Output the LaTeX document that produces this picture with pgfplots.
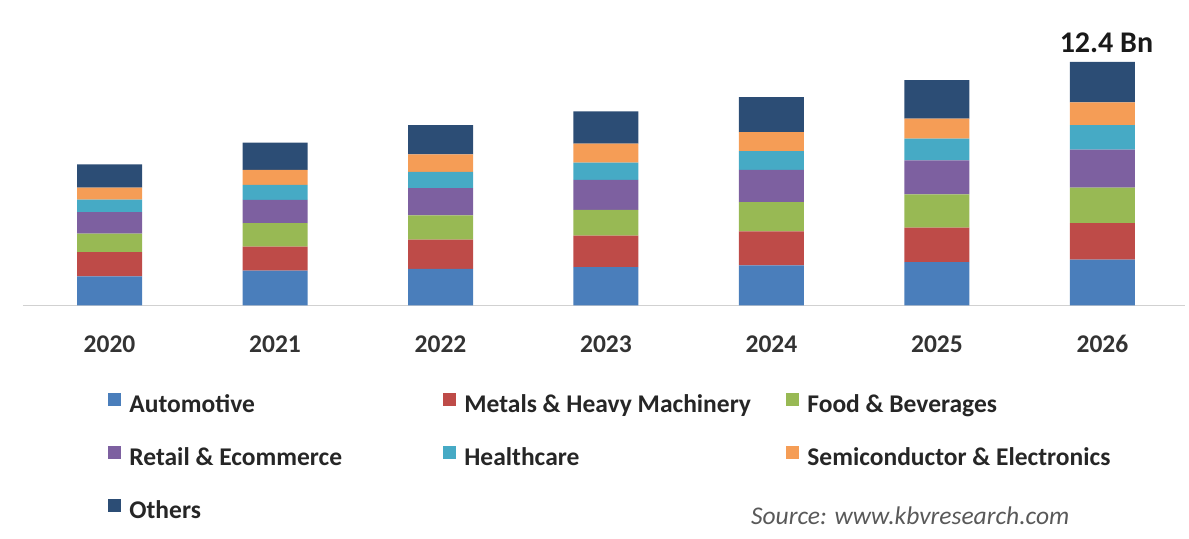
\documentclass[border=0pt]{standalone}
\usepackage{pgfplots}
\usepackage{pgfplotstable}
\pgfplotsset{compat=1.18}
\usepackage{fontspec}
\setmainfont{Carlito}
\definecolor{cauto}{HTML}{4A7EBB}
\definecolor{cmetal}{HTML}{BE4B48}
\definecolor{cfood}{HTML}{98B954}
\definecolor{cretail}{HTML}{7D60A0}
\definecolor{chealth}{HTML}{46AAC5}
\definecolor{csemi}{HTML}{F59D56}
\definecolor{cother}{HTML}{2C4D75}
\pgfplotstableread{
x auto metals food retail health semi others
0 1.48 1.24 0.94 1.10 0.63 0.61 1.19
1 1.78 1.22 1.19 1.19 0.76 0.76 1.39
2 1.87 1.48 1.24 1.39 0.82 0.89 1.49
3 1.95 1.61 1.31 1.53 0.87 0.97 1.65
4 2.04 1.73 1.49 1.65 0.95 0.97 1.78
5 2.21 1.75 1.70 1.73 1.11 1.02 1.95
6 2.33 1.87 1.80 1.94 1.24 1.16 2.06
}\datatable
\begin{document}
\begin{tikzpicture}
\path[use as bounding box] (0pt,0pt) rectangle (594.5pt,269.5pt);
\begin{axis}[
  at={(11.5pt,116.75pt)}, anchor=south west,
  scale only axis, width=581pt, height=127.65pt,
  ybar stacked, bar width=32.5pt,
  xmin=-0.523, xmax=6.499, ymin=0, ymax=13,
  clip=false,
  axis x line=bottom, axis y line=none,
  x axis line style={draw=black!18, line width=0.6pt, -},
  xtick={0,...,6},
  xticklabels={2020,2021,2022,2023,2024,2025,2026},
  major tick length=0pt,
  xticklabel style={anchor=center, yshift=-19.25pt, font=\fontsize{12.75}{15}\selectfont\bfseries, text=black!80},
  legend columns=3,
  legend cell align=left,
  legend image code/.code={\fill[#1,draw=none] (0pt,0pt) rectangle (6.5pt,6.5pt);},
  legend style={at={(0.07315,-0.34274)}, anchor=north west, draw=none, fill=none,
    inner sep=0pt, column sep=4pt, row sep=14.25pt,
    font=\fontsize{12.75}{15}\selectfont\bfseries, text=black!85,
    nodes={inner sep=0pt, text height=9pt, text depth=2.5pt}},
]
\addplot[fill=cauto, draw=none] table[x=x, y=auto] {\datatable};
\addplot[fill=cmetal, draw=none] table[x=x, y=metals] {\datatable};
\addplot[fill=cfood, draw=none] table[x=x, y=food] {\datatable};
\addplot[fill=cretail, draw=none] table[x=x, y=retail] {\datatable};
\addplot[fill=chealth, draw=none] table[x=x, y=health] {\datatable};
\addplot[fill=csemi, draw=none] table[x=x, y=semi] {\datatable};
\addplot[fill=cother, draw=none] table[x=x, y=others] {\datatable};
\addlegendentry{\makebox[153pt][l]{Automotive}}
\addlegendentry{\makebox[157pt][l]{Metals \& Heavy Machinery}}
\addlegendentry{Food \& Beverages}
\addlegendentry{\makebox[153pt][l]{Retail \& Ecommerce}}
\addlegendentry{\makebox[157pt][l]{Healthcare}}
\addlegendentry{Semiconductor \& Electronics}
\addlegendentry{\makebox[153pt][l]{Others}}
\node[anchor=base, xshift=2pt, yshift=4.5pt, font=\fontsize{15}{18}\selectfont\bfseries, text=black!90] at (axis cs:6,12.4) {12.4 Bn};
\end{axis}
\node[anchor=base west, font=\fontsize{12.75}{15}\selectfont\itshape, text=black!65] at (372pt,7pt) {Source: www.kbvresearch.com};
\end{tikzpicture}
\end{document}
